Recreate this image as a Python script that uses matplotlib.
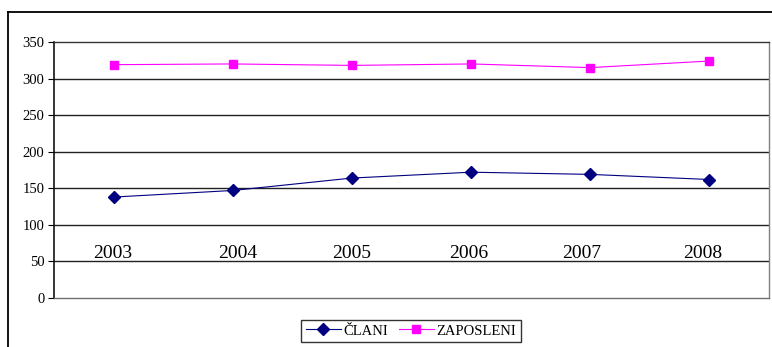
import matplotlib
matplotlib.use("Agg")
import matplotlib.pyplot as plt
from matplotlib.lines import Line2D

years = ["2003", "2004", "2005", "2006", "2007", "2008"]
clani = [138, 147, 164, 172, 169, 162]
zaposleni = [319, 320, 318, 320, 315, 324]
year_label_shift = [-0.01, 0.04, 0.0, -0.02, -0.07, -0.06]
y_ticks = [0, 50, 100, 150, 200, 250, 300, 350]

plt.rcParams["font.family"] = ["Liberation Serif", "DejaVu Serif"]

fig = plt.figure(figsize=(7.72, 3.47), dpi=100)
ax = fig.add_axes([54 / 772, 49 / 347, 715 / 772, 256 / 347])

x = list(range(len(years)))
ax.plot(x, clani, color="#000080", linewidth=0.8, marker="D", markersize=6,
        label="ČLANI", zorder=3)
ax.plot(x, zaposleni, color="#FF00FF", linewidth=0.8, marker="s", markersize=6,
        label="ZAPOSLENI", zorder=3)

ax.set_xlim(-0.5, len(years) - 0.5)
ax.set_ylim(0, 350)
ax.set_yticks(y_ticks)
ax.set_yticklabels([str(v) for v in y_ticks], fontsize=10.5)
ax.set_xticks([])
ax.tick_params(axis="y", direction="out", length=4, width=0.8, pad=3, color="black")

for v in y_ticks[1:-1]:
    ax.axhline(v, color="#222222", linewidth=1.0, zorder=1)

ax.spines["top"].set_color("#333333")
ax.spines["right"].set_color("#808080")
ax.spines["bottom"].set_color("#707070")
for side in ("top", "right", "bottom"):
    ax.spines[side].set_linewidth(1.0)
ax.spines["left"].set_color("black")
ax.spines["left"].set_linewidth(1.1)

for i, (lab, dx) in enumerate(zip(years, year_label_shift)):
    ax.text(i + dx, 55, lab, ha="center", va="baseline", fontsize=14)

leg = fig.legend(loc="center", bbox_to_anchor=(411 / 772, 1 - 331 / 347),
                 ncol=2, frameon=True, fancybox=False, fontsize=10.5,
                 handlelength=2.4, handletextpad=0.2, columnspacing=0.7,
                 borderpad=0.3, borderaxespad=0)
leg.get_frame().set_edgecolor("black")
leg.get_frame().set_linewidth(1.0)

# outer frame on the left and top edges
fig.add_artist(Line2D([8 / 772, 8 / 772], [0, 1 - 12 / 347], color="black",
                      linewidth=1.3, transform=fig.transFigure))
fig.add_artist(Line2D([8 / 772, 1], [1 - 12 / 347, 1 - 12 / 347], color="black",
                      linewidth=1.3, transform=fig.transFigure))

fig.savefig("out.png", dpi=100)
